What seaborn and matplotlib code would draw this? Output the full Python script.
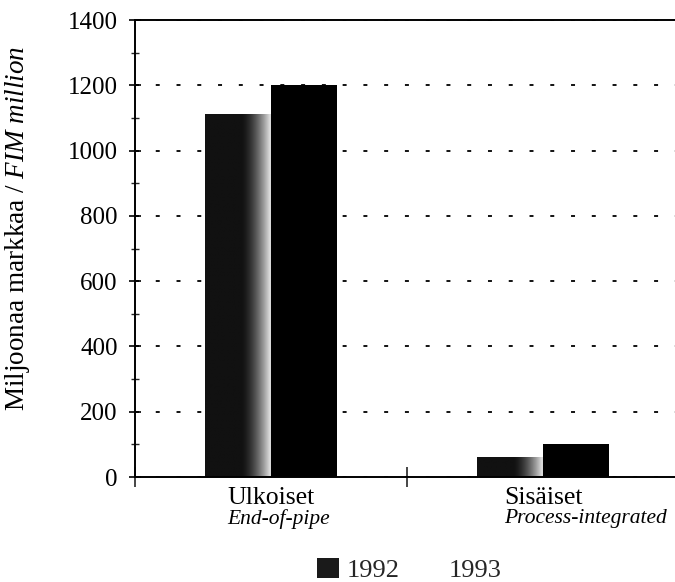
import numpy as np
import pandas as pd
import matplotlib
matplotlib.use("Agg")
import matplotlib.pyplot as plt
from matplotlib.patches import Patch
import seaborn as sns

# Data
categories = ["Ulkoiset", "Sisäiset"]
categories_en = ["End-of-pipe", "Process-integrated"]
years = ["1992", "1993"]
values_1992 = [1112, 62]
values_1993 = [1200, 100]

df = pd.DataFrame({
    "category": categories * 2,
    "year": [years[0]] * 2 + [years[1]] * 2,
    "value": values_1992 + values_1993,
})

sns.set_theme(style="white")
plt.rcParams["font.family"] = ["Liberation Serif", "DejaVu Serif"]
plt.rcParams["mathtext.fontset"] = "custom"
plt.rcParams["mathtext.rm"] = "Liberation Serif"
plt.rcParams["mathtext.it"] = "Liberation Serif:italic"

fig = plt.figure(figsize=(6.75, 5.82), dpi=100)
ax = fig.add_axes([0.2, 0.1804, 0.806, 0.7852])

sns.barplot(data=df, x="category", y="value", hue="year", order=categories,
            hue_order=years, palette=["#111111", "#000000"], width=0.485,
            saturation=1, linewidth=0, legend=False, ax=ax)

# 1992 bars: dark, with a light band near the right edge
xs = np.linspace(0, 1, 256)
grad = 0.07 + 0.75 * np.clip((xs - 0.55) / 0.42, 0, 1) ** 1.6
grad[xs > 0.97] = 0.85
grad = np.vstack([grad, grad])
for bar in ax.containers[0]:
    x0, w = bar.get_x(), bar.get_width()
    h = bar.get_height()
    im = ax.imshow(grad, cmap="gray", vmin=0, vmax=1, aspect="auto",
                   extent=(x0, x0 + w, 0, h), zorder=bar.get_zorder() + 0.1,
                   interpolation="bilinear")
    im.set_clip_path(bar)

ax.set_xlim(-0.5, 1.5)
ax.set_ylim(0, 1400)
ax.set_yticks(range(0, 1401, 200))
ax.set_yticks(range(100, 1400, 200), minor=True)
ax.set_xticks([-0.5, 0.5, 1.5])
ax.set_xticklabels([])
ax.set_xlabel("")

ax.tick_params(axis="y", which="major", direction="inout", length=9, width=1.2,
               labelsize=18, pad=8, left=True, colors="black")
ax.tick_params(axis="y", which="minor", direction="inout", length=6, width=1.0,
               left=True)
ax.tick_params(axis="x", which="major", direction="inout", length=14, width=1.2,
               bottom=True)

for s in ["left", "bottom", "top"]:
    ax.spines[s].set_visible(True)
    ax.spines[s].set_color("black")
    ax.spines[s].set_linewidth(1.4)
ax.spines["right"].set_visible(False)

ax.yaxis.grid(True, which="major", color="black", linewidth=1.3,
              linestyle=(0, (2.2, 9.3)))
ax.set_axisbelow(True)

ax.set_ylabel(r"Miljoonaa markkaa / $\mathit{FIM\ million}$", fontsize=19.5,
              color="black")
ax.yaxis.set_label_coords(-0.19, 0.545)

# two-line category labels, second line italic and left aligned to the first
for i, (fi, en) in enumerate(zip(categories, categories_en)):
    t = ax.annotate(fi, xy=(i, 0), xycoords=("data", "axes fraction"),
                    xytext=(0, -7), textcoords="offset points",
                    ha="center", va="top", fontsize=18.5, color="black")
    ax.annotate(en, xy=(0, 0), xycoords=t, xytext=(0, 0),
                textcoords="offset points", ha="left", va="top",
                fontsize=15.5, fontstyle="italic", color="black")

handles = [Patch(facecolor="#1a1a1a", edgecolor="none"),
           Patch(facecolor="none", edgecolor="none")]
fig.legend(handles, years, loc="center", bbox_to_anchor=(0.606, 0.02), ncol=2,
           frameon=False, fontsize=19, handlelength=0.85, handleheight=0.8,
           handletextpad=0.3, columnspacing=0.7, borderpad=0)

fig.savefig("out.png", dpi=100)
